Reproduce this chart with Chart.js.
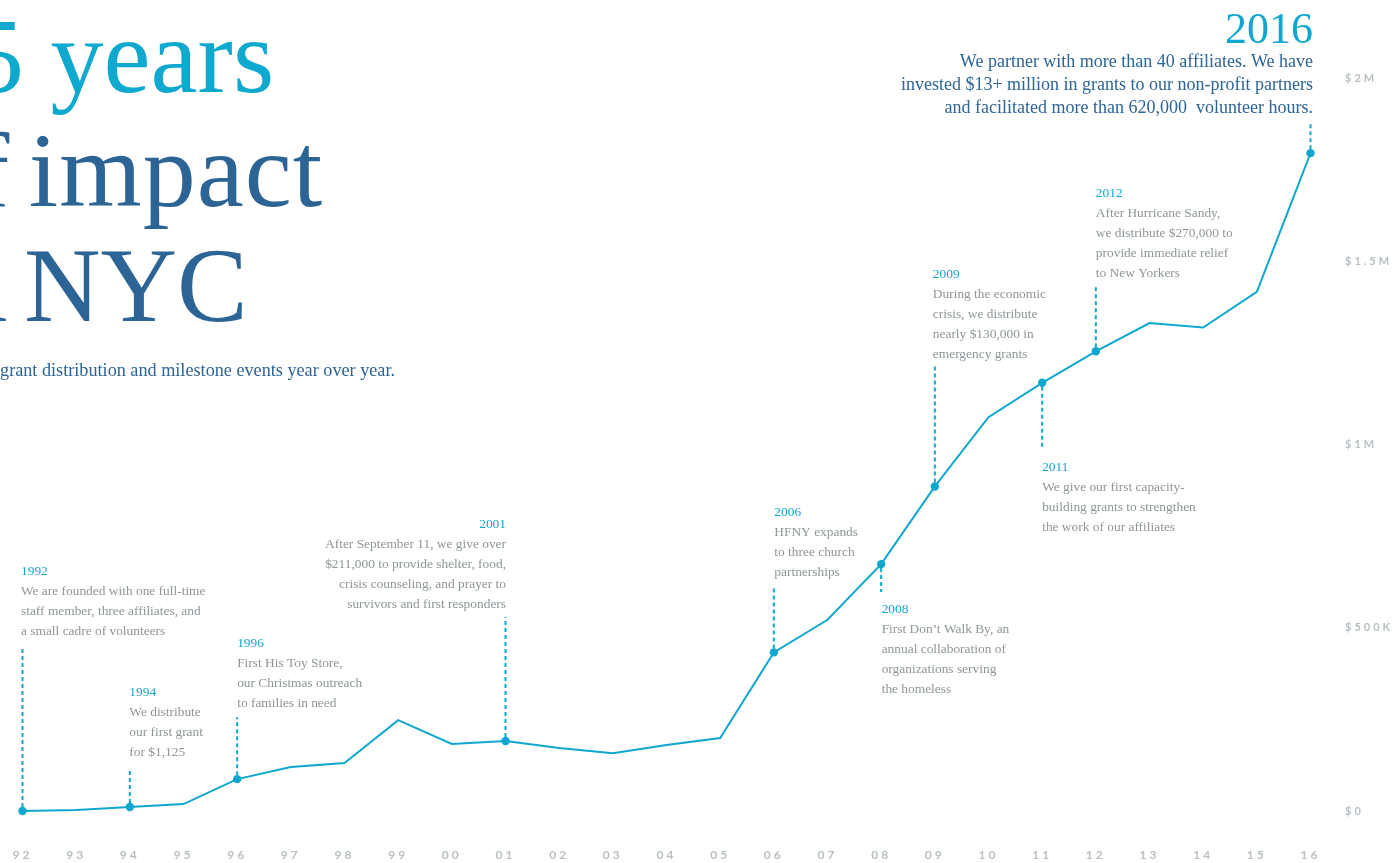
<!DOCTYPE html>
<html>
<head>
<meta charset="utf-8">
<title>25 years of impact in NYC</title>
<script src="https://cdn.jsdelivr.net/npm/chart.js@4.4.1/dist/chart.umd.min.js"></script>
<style>
  html, body { margin: 0; padding: 0; background: #fff; overflow: hidden; }
  .wrap { position: relative; width: 1396px; height: 863px; overflow: hidden; }
  .wrap canvas { position: absolute; left: 0; top: 0; }
  .head {
    position: absolute; white-space: nowrap;
    font-family: 'Liberation Serif', 'DejaVu Serif', serif;
    font-size: 106px; line-height: 106px; color: #2d6496;
  }
  .head.first { color: #0fa9d0; }
  .sub {
    position: absolute; white-space: nowrap; text-align: right;
    font-family: 'Liberation Serif', 'DejaVu Serif', serif;
    font-size: 18.2px; line-height: 18px; color: #2d6496;
  }
</style>
</head>
<body>
<div class="wrap">
  <canvas id="grants" width="1396" height="863"></canvas>
  <div class="head first" style="left:-82px; top:4px;">25 years</div>
  <div class="head" style="left:-80px; top:118px; word-spacing:-9px; letter-spacing:1px;">of impact</div>
  <div class="head" style="left:-75px; top:233px; word-spacing:-10px;">in NYC</div>
  <div class="sub" style="right:1001px; top:361px;">Explore our grant distribution and milestone events year over year.</div>
</div>
<script>
// grant distribution per year
const years = ['1992', '1993', '1994', '1995', '1996', '1997', '1998', '1999', '2000', '2001', '2002', '2003',
  '2004', '2005', '2006', '2007', '2008', '2009', '2010', '2011', '2012', '2013', '2014', '2015', '2016'];
const grants = [0, 3000, 11000, 19000, 87000, 120000, 131000, 248000, 183000, 191000, 172000, 158000,
  180000, 199000, 433000, 522000, 674000, 886000, 1075000, 1169000, 1255000, 1332000, 1320000, 1417000, 1796000];
const yTickLabels = ['$0', '$500K', '$1M', '$1.5M', '$2M'];

// milestone notes
const milestones = [
  { year: '1992', lines: ['We are founded with one full-time', 'staff member, three affiliates, and', 'a small cadre of volunteers'] },
  { year: '1994', lines: ['We distribute', 'our first grant', 'for $1,125'] },
  { year: '1996', lines: ['First His Toy Store,', 'our Christmas outreach', 'to families in need'] },
  { year: '2001', lines: ['After September 11, we give over', '$211,000 to provide shelter, food,', 'crisis counseling, and prayer to', 'survivors and first responders'] },
  { year: '2006', lines: ['HFNY expands', 'to three church', 'partnerships'] },
  { year: '2008', lines: ['First Don\u2019t Walk By, an', 'annual collaboration of', 'organizations serving', 'the homeless'] },
  { year: '2009', lines: ['During the economic', 'crisis, we distribute', 'nearly $130,000 in', 'emergency grants'] },
  { year: '2011', lines: ['We give our first capacity-', 'building grants to strengthen', 'the work of our affiliates'] },
  { year: '2012', lines: ['After Hurricane Sandy,', 'we distribute $270,000 to', 'provide immediate relief', 'to New Yorkers'] },
  { year: '2016', lines: ['We partner with more than 40 affiliates. We have', 'invested $13+ million in grants to our non-profit partners', 'and facilitated more than 620,000  volunteer hours.'] }
];

// where each note sits, relative to its point (px)
const notePlacement = {
  '1992': { dx: -1.5, yearY: -236, dash: -163, align: 'left' },
  '1994': { dx: -0.5, yearY: -111, dash: -39, align: 'left' },
  '1996': { dx: 0, yearY: -132, dash: -62, align: 'left' },
  '2001': { dx: 0.5, yearY: -213, dash: -124, align: 'right' },
  '2006': { dx: 0.5, yearY: -136, dash: -64, align: 'left' },
  '2008': { dx: 0.5, yearY: 49, dash: 28, align: 'left' },
  '2009': { dx: -2, yearY: -208, dash: -123, align: 'left' },
  '2011': { dx: 0, yearY: 88, dash: 65, align: 'left' },
  '2012': { dx: 0, yearY: -154, dash: -65, align: 'left' },
  '2016': { dx: 2.5, yearY: -110, dash: -31, align: 'right', big: true }
};

const cyan = '#0fa7cf';
const navy = '#2d6496';
const grey = '#8d9699';
const tickGrey = '#b7c0c4';
const serif = "'Liberation Serif', 'DejaVu Serif', serif";

const milestoneYears = milestones.map(m => m.year);

// wide tracking on the axis labels
const tracking = {
  id: 'tracking',
  beforeDraw(chart) { chart.ctx.letterSpacing = '3px'; },
  afterDraw(chart) { chart.ctx.letterSpacing = '0px'; }
};

const notes = {
  id: 'notes',
  afterDatasetsDraw(chart) {
    const { ctx, scales: { x, y } } = chart;
    ctx.save();
    ctx.letterSpacing = '0px';
    milestones.forEach(m => {
      const p = notePlacement[m.year];
      const i = years.indexOf(m.year);
      const px = x.getPixelForValue(i);
      const py = y.getPixelForValue(grants[i]);

      ctx.strokeStyle = cyan;
      ctx.lineWidth = 2;
      ctx.setLineDash([4, 3]);
      ctx.beginPath();
      ctx.moveTo(px, py + (p.dash < 0 ? -4 : 4));
      ctx.lineTo(px, py + p.dash);
      ctx.stroke();
      ctx.setLineDash([]);

      ctx.textAlign = p.align;
      ctx.textBaseline = 'alphabetic';
      const tx = px + p.dx;
      if (p.big) {
        ctx.fillStyle = cyan;
        ctx.font = '44px ' + serif;
        ctx.fillText(m.year, tx, py + p.yearY);
        ctx.fillStyle = navy;
        ctx.font = '18px ' + serif;
        m.lines.forEach((t, k) => ctx.fillText(t, tx, py + p.yearY + 24 + k * 23));
      } else {
        ctx.font = '13.4px ' + serif;
        ctx.fillStyle = cyan;
        ctx.fillText(m.year, tx, py + p.yearY);
        ctx.fillStyle = grey;
        m.lines.forEach((t, k) => ctx.fillText(t, tx, py + p.yearY + 20 * (k + 1)));
      }
    });
    ctx.restore();
  }
};

new Chart(document.getElementById('grants'), {
  type: 'line',
  data: {
    labels: years,
    datasets: [{
      data: grants,
      borderColor: cyan,
      borderWidth: 2,
      tension: 0,
      fill: false,
      clip: false,
      pointRadius: years.map(yr => milestoneYears.includes(yr) ? 4.2 : 0),
      pointBackgroundColor: cyan,
      pointBorderWidth: 0
    }]
  },
  options: {
    responsive: false,
    animation: false,
    events: [],
    layout: { autoPadding: false, padding: { left: 22.5, top: 78.4, right: 5.5, bottom: 0 } },
    plugins: { legend: { display: false }, tooltip: { enabled: false } },
    scales: {
      x: {
        grid: { display: false, drawTicks: false },
        border: { display: false },
        ticks: {
          color: tickGrey,
          font: { family: 'Lato', size: 12, weight: '700' },
          padding: 37,
          autoSkip: false,
          maxRotation: 0,
          callback: (v, i) => years[i].slice(2)
        },
        // labels sit far below the line; don't let that padding squeeze the plot sideways
        afterFit(s) { s.height = 52; s.paddingLeft = 0; s.paddingRight = 0; }
      },
      y: {
        position: 'right',
        min: 0,
        max: 2000000,
        grid: { display: false, drawTicks: false },
        border: { display: false },
        ticks: {
          stepSize: 500000,
          color: tickGrey,
          font: { family: 'Lato', size: 11, weight: '700' },
          padding: 34.5,
          callback: v => yTickLabels[Math.round(v / 500000)]
        },
        afterFit(s) { s.width = 80; s.paddingTop = 0; s.paddingBottom = 0; }
      }
    }
  },
  plugins: [tracking, notes]
});
</script>
</body>
</html>
